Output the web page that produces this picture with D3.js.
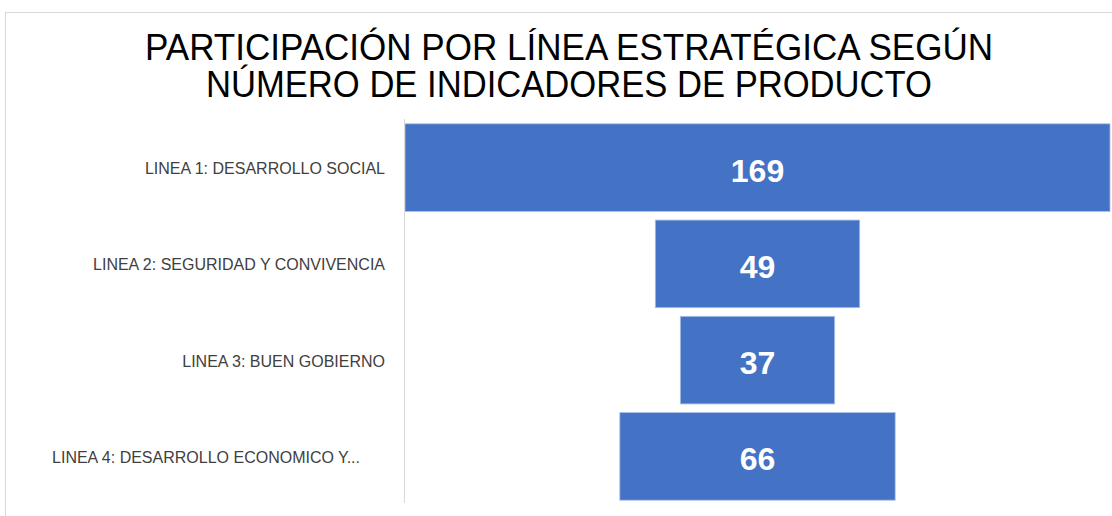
<!DOCTYPE html>
<html>
<head>
<meta charset="utf-8">
<style>
  body { margin: 0; background: #fff; }
  svg { display: block; }
</style>
</head>
<body>
<svg width="1112" height="516"></svg>
<script src="https://d3js.org/d3.v7.min.js"></script>
<script>
  var categories = [
    "LINEA 1: DESARROLLO SOCIAL",
    "LINEA 2: SEGURIDAD Y CONVIVENCIA",
    "LINEA 3: BUEN GOBIERNO",
    "LINEA 4: DESARROLLO ECONOMICO Y..."
  ];
  var values = [169, 49, 37, 66];
  var titleLines = [
    "PARTICIPACIÓN POR LÍNEA ESTRATÉGICA SEGÚN",
    "NÚMERO DE INDICADORES DE PRODUCTO"
  ];

  var svg = d3.select("svg");
  var margin = {top: 119, right: 2, bottom: 11, left: 405};
  var width = +svg.attr("width") - margin.left - margin.right;
  var height = +svg.attr("height") - margin.top - margin.bottom;

  // chart frame
  svg.append("rect")
    .attr("x", 5.5).attr("y", 12.5)
    .attr("width", 1112).attr("height", 520)
    .attr("fill", "#fff")
    .attr("stroke", "#d9d9d9");

  // title (squeezed a little, the original font is narrower)
  var titleWidths = [848, 726];
  svg.append("g")
    .selectAll("text")
    .data(titleLines)
    .join("text")
    .attr("x", 569)
    .attr("y", function(d, i) { return 60 + i * 37; })
    .attr("text-anchor", "middle")
    .attr("font-family", "Liberation Sans, Arial, sans-serif")
    .attr("font-size", 36.5)
    .attr("fill", "#000")
    .attr("textLength", function(d, i) { return titleWidths[i]; })
    .attr("lengthAdjust", "spacingAndGlyphs")
    .text(function(d) { return d; });

  var g = svg.append("g")
    .attr("transform", "translate(" + margin.left + "," + margin.top + ")");

  var y = d3.scaleBand()
    .domain(categories)
    .range([0, height])
    .paddingInner(0.09)
    .paddingOuter(0.05);

  // funnel: widths from a linear scale, centred on the plot
  var w = d3.scaleLinear()
    .domain([0, d3.max(values)])
    .range([0, width]);

  var data = categories.map(function(c, i) { return {cat: c, val: values[i]}; });

  g.selectAll(".bar")
    .data(data)
    .join("rect")
    .attr("class", "bar")
    .attr("x", function(d) { return (width - w(d.val)) / 2; })
    .attr("y", function(d) { return y(d.cat); })
    .attr("width", function(d) { return w(d.val); })
    .attr("height", y.bandwidth())
    .attr("fill", "#4472c4")
    .attr("stroke", "#a9bfe6")
    .attr("stroke-width", 0.8);

  g.selectAll(".val")
    .data(data)
    .join("text")
    .attr("class", "val")
    .attr("x", width / 2)
    .attr("y", function(d) { return y(d.cat) + y.bandwidth() / 2; })
    .attr("dy", "0.44em")
    .attr("text-anchor", "middle")
    .attr("font-family", "Liberation Sans, Arial, sans-serif")
    .attr("font-weight", "bold")
    .attr("font-size", 32)
    .attr("fill", "#fff")
    .text(function(d) { return d.val; });

  // category axis
  var yAxis = d3.axisLeft(y).tickSize(0).tickPadding(20);
  var ax = g.append("g").call(yAxis);
  ax.select(".domain").attr("stroke", "#d9d9d9").attr("d", "M-0.5,0V" + (height - 2));
  ax.selectAll("text")
    .attr("font-family", "Liberation Sans, Arial, sans-serif")
    .attr("font-size", 16)
    .attr("dy", "0.4em")
    .attr("fill", "#404040");
  // the truncated label sits further left in the original
  ax.selectAll(".tick").filter(function(d, i) { return i === 3; })
    .select("text").attr("x", -45);
</script>
</body>
</html>
